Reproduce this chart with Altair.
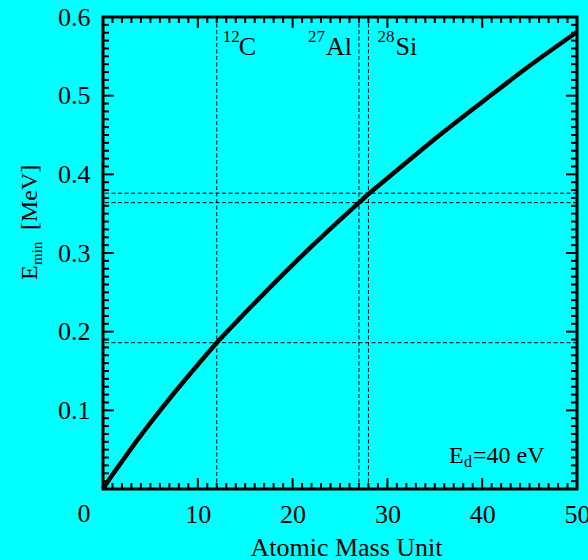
import altair as alt
import pandas as pd

# ---- data ----
mass = [0, 1, 2, 3, 5, 7.5, 10, 12, 15, 20, 25, 27, 28, 30, 35, 40, 45, 50]
emin = [0, 0.018, 0.035, 0.052, 0.084, 0.122, 0.158, 0.186, 0.224, 0.285,
        0.342, 0.364, 0.375, 0.395, 0.445, 0.492, 0.538, 0.581]

marker_mass = [12, 27, 28]
marker_emin = [0.186, 0.364, 0.376]
iso_num = ["12", "27", "28"]
iso_sym = ["C", "Al", "Si"]

x_labels = [10, 20, 30, 40, 50]
y_labels = [0.1, 0.2, 0.3, 0.4, 0.5, 0.6]
x_major = [0, 10, 20, 30, 40, 50]
x_minor = [i for i in range(1, 50) if i % 10]
y_major = [0.1, 0.2, 0.3, 0.4, 0.5]
y_minor = [round(0.01 * i, 2) for i in range(1, 60) if i % 10]

W, H = 474, 472
FONT = "Liberation Serif"

xscale = alt.Scale(domain=[0, 50], nice=False, zero=False)
yscale = alt.Scale(domain=[0, 0.6], nice=False, zero=False)

xaxis = alt.Axis(values=x_labels, title="Atomic Mass Unit", domain=False, ticks=False,
                 tickSize=0, grid=False, labelFont=FONT, labelFontSize=26,
                 labelColor="black", labelBaseline="alphabetic", labelPadding=33,
                 labelFlush=False, labelOverlap=False, titleFont=FONT, titleFontSize=26,
                 titleFontWeight="normal", titleColor="black", titleX=243, titleY=66,
                 titleBaseline="alphabetic", titleAlign="center")
yaxis = alt.Axis(values=y_labels, title=None, domain=False, ticks=False, tickSize=0,
                 grid=False, labelFont=FONT, labelFontSize=26, labelColor="black",
                 labelAlign="right", labelBaseline="middle", labelPadding=13,
                 labelFlush=False, labelOverlap=False, format=".1f")


def X():
    return alt.X("A:Q", scale=xscale, axis=xaxis)


def Y():
    return alt.Y("E:Q", scale=yscale, axis=yaxis)


curve_df = pd.DataFrame({"A": mass, "E": emin})
vdf = pd.DataFrame({"A": marker_mass})
hdf = pd.DataFrame({"E": marker_emin})
one = pd.DataFrame({"k": [0]})

dash = [4, 2.5]
vlines = alt.Chart(vdf).mark_rule(color="black", strokeWidth=1, strokeDash=dash).encode(x=X())
hlines = alt.Chart(hdf).mark_rule(color="black", strokeWidth=1, strokeDash=dash).encode(y=Y())

curve = alt.Chart(curve_df).mark_line(color="black", strokeWidth=4.5,
                                      interpolate="monotone").encode(x=X(), y=Y())

MAJ, MIN = 11, 6
tick_layers = []
for vals, L in [(x_major, MAJ), (x_minor, MIN)]:
    d = pd.DataFrame({"A": vals})
    tick_layers.append(alt.Chart(d).mark_rule(color="black", strokeWidth=2).encode(
        x=X(), y=alt.value(H), y2=alt.value(H - L)))
    tick_layers.append(alt.Chart(d).mark_rule(color="black", strokeWidth=2).encode(
        x=X(), y=alt.value(0), y2=alt.value(L)))
for vals, L in [(y_major, MAJ), (y_minor, MIN)]:
    d = pd.DataFrame({"E": vals})
    tick_layers.append(alt.Chart(d).mark_rule(color="black", strokeWidth=2).encode(
        y=Y(), x=alt.value(0), x2=alt.value(L)))
    tick_layers.append(alt.Chart(d).mark_rule(color="black", strokeWidth=2).encode(
        y=Y(), x=alt.value(W), x2=alt.value(W - L)))

# origin "0" label
zero_lbl = alt.Chart(pd.DataFrame({"A": [0], "E": [0]})).mark_text(
    font=FONT, fontSize=26, color="black", dx=-19, dy=33, baseline="alphabetic",
    align="center").encode(x=X(), y=Y(), text=alt.value("0"))

# isotope labels
iso_layers = []
sup_dx = [6, -51, 9]
sym_dx = [22, -33, 27]
for m, n, s, dn, ds in zip(marker_mass, iso_num, iso_sym, sup_dx, sym_dx):
    d = pd.DataFrame({"A": [m]})
    iso_layers.append(alt.Chart(d).mark_text(font=FONT, fontSize=17, color="black",
                                             align="left", baseline="alphabetic", dx=dn).encode(
        x=X(), y=alt.value(25), text=alt.value(n)))
    iso_layers.append(alt.Chart(d).mark_text(font=FONT, fontSize=26, color="black",
                                             align="left", baseline="alphabetic", dx=ds).encode(
        x=X(), y=alt.value(38), text=alt.value(s)))

# E_d = 40 eV annotation
ed_layers = [
    alt.Chart(one).mark_text(font=FONT, fontSize=24, color="black", align="left",
                             baseline="alphabetic").encode(
        x=alt.value(346), y=alt.value(446), text=alt.value("E")),
    alt.Chart(one).mark_text(font=FONT, fontSize=16, color="black", align="left",
                             baseline="alphabetic").encode(
        x=alt.value(361), y=alt.value(450), text=alt.value("d")),
    alt.Chart(one).mark_text(font=FONT, fontSize=24, color="black", align="left",
                             baseline="alphabetic").encode(
        x=alt.value(370), y=alt.value(446), text=alt.value("=40 eV")),
]

# rotated y title: E_min [MeV]
yt_layers = [
    alt.Chart(one).mark_text(font=FONT, fontSize=24, color="black", align="left",
                             baseline="alphabetic", angle=270).encode(
        x=alt.value(-66), y=alt.value(263), text=alt.value("E")),
    alt.Chart(one).mark_text(font=FONT, fontSize=15, color="black", align="left",
                             baseline="alphabetic", angle=270).encode(
        x=alt.value(-61), y=alt.value(248), text=alt.value("min")),
    alt.Chart(one).mark_text(font=FONT, fontSize=24, color="black", align="left",
                             baseline="alphabetic", angle=270).encode(
        x=alt.value(-66), y=alt.value(213), text=alt.value("[MeV]")),
]

chart = alt.layer(
    vlines, hlines, curve, *tick_layers, zero_lbl, *iso_layers, *ed_layers, *yt_layers
).properties(
    width=W, height=H, background="#00FFFF",
    padding={"left": 103, "top": 17, "right": 11, "bottom": 71},
    autosize=alt.AutoSizeParams(type="none"),
).configure_view(stroke="black", strokeWidth=3)

chart.save("out.html", embed_options={"renderer": "svg", "actions": False})
